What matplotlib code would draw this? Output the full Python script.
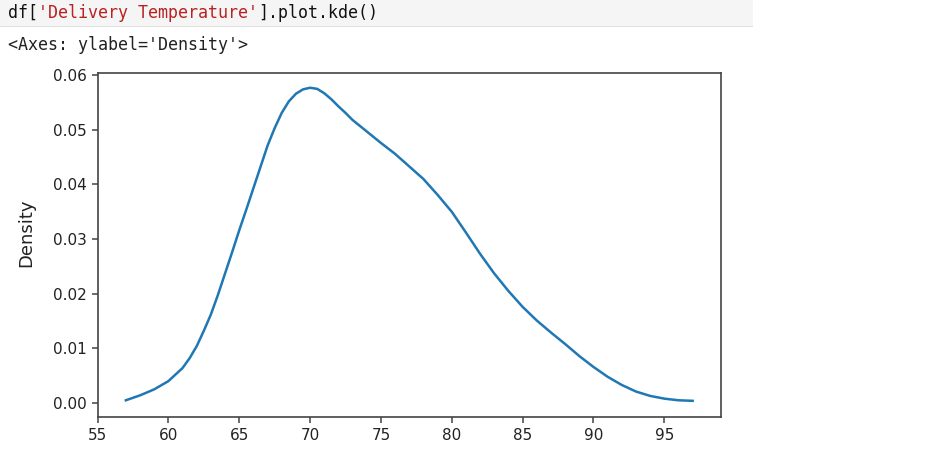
import matplotlib.pyplot as plt
from matplotlib.patches import Rectangle

# KDE curve (temperature -> density)
temps = [57, 58, 59, 60, 61, 61.5, 62, 62.5, 63, 63.5, 64, 64.5, 65, 65.5,
         66, 66.5, 67, 67.5, 68, 68.5, 69, 69.5, 70, 70.5, 71, 71.5, 72, 72.5,
         73, 74, 75, 76, 77, 78, 79, 80, 81, 82, 83, 84, 85, 86, 87,
         88, 89, 90, 91, 92, 93, 94, 95, 96, 97]
density = [0.0005, 0.0014, 0.0025, 0.0040, 0.0064, 0.0082, 0.0104, 0.0132,
           0.0162, 0.0198, 0.0237, 0.0276, 0.0316, 0.0354, 0.0393, 0.0432,
           0.0471, 0.0503, 0.0531, 0.0552, 0.0566, 0.0574, 0.0577, 0.0575,
           0.0567, 0.0556, 0.0543, 0.0531, 0.0518, 0.0497, 0.0476, 0.0456,
           0.0433, 0.0410, 0.0381, 0.0350, 0.0312, 0.0273, 0.0237, 0.0205,
           0.0176, 0.0151, 0.0129, 0.0108, 0.0086, 0.0066, 0.0048, 0.0033,
           0.0021, 0.0013, 0.0008, 0.0005, 0.0004]

xticks = [55, 60, 65, 70, 75, 80, 85, 90, 95]
yticks = [0.00, 0.01, 0.02, 0.03, 0.04, 0.05, 0.06]

code_pre = "df["
code_str = "'Delivery Temperature'"
code_post = "].plot.kde()"
out_text = "<Axes: ylabel='Density'>"

fig = plt.figure(figsize=(9.4, 4.5), dpi=100)

# notebook code cell
fig.patches.append(Rectangle((0, 1 - 26 / 450), 753 / 940, 26 / 450,
                             transform=fig.transFigure, facecolor='#f5f5f5',
                             edgecolor='none', zorder=0))
fig.patches.append(Rectangle((0, 1 - 27 / 450), 753 / 940, 1.5 / 450,
                             transform=fig.transFigure, facecolor='#e0e0e0',
                             edgecolor='none', zorder=0))
mono = dict(family='DejaVu Sans Mono', fontsize=12, va='center')
t = fig.text(8 / 940, 1 - 13 / 450, code_pre, color='#111111', **mono)
fig.canvas.draw()
r = fig.canvas.get_renderer()
bb = t.get_window_extent(r)
t2 = fig.text(bb.x1 / 940, 1 - 13 / 450, code_str, color='#ba2121', **mono)
bb2 = t2.get_window_extent(r)
fig.text(bb2.x1 / 940, 1 - 13 / 450, code_post, color='#111111', **mono)
fig.text(8 / 940, 1 - 45 / 450, out_text, color='#222222', **mono)

ax = fig.add_axes([97.5 / 940, 1 - 417 / 450, (721 - 97.5) / 940, (417 - 73) / 450])
ax.plot(temps, density, color='#1f77b4', lw=1.8)
ax.set_xlim(55, 99)
ax.set_ylim(-0.00256, 0.0604)
ax.set_xticks(xticks)
ax.set_yticks(yticks)
ax.set_yticklabels([f"{v:.2f}" for v in yticks])
ax.tick_params(labelsize=11, colors='#444444', labelcolor='#222222',
               width=1.1, length=4.5)
for s in ax.spines.values():
    s.set_color('#444444')
    s.set_linewidth(1.2)
ax.set_ylabel('Density', fontsize=13, color='#222222')
ax.yaxis.set_label_coords(-0.1, 0.535)

fig.savefig('out.png', dpi=100)
